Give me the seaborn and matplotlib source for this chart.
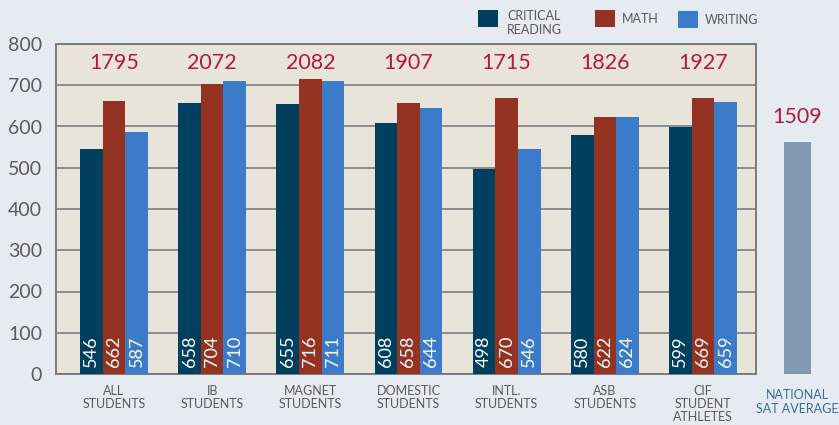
import matplotlib
matplotlib.use("Agg")
import matplotlib.pyplot as plt
from matplotlib.patches import Rectangle
import seaborn as sns
import pandas as pd

groups = ["ALL\nSTUDENTS", "IB\nSTUDENTS", "MAGNET\nSTUDENTS", "DOMESTIC\nSTUDENTS",
          "INTL.\nSTUDENTS", "ASB\nSTUDENTS", "CIF\nSTUDENT\nATHLETES"]
subjects = ["CRITICAL\nREADING", "MATH", "WRITING"]
critical_reading = [546, 658, 655, 608, 498, 580, 599]
math_scores = [662, 704, 716, 658, 670, 622, 669]
writing = [587, 710, 711, 644, 546, 624, 659]
totals = [1795, 2072, 2082, 1907, 1715, 1826, 1927]
national_label = "NATIONAL\nSAT AVERAGE"
national_total = 1509
national_bar = 562  # bar height as drawn in the reference
yticks = [0, 100, 200, 300, 400, 500, 600, 700, 800]

colors = ["#013F5E", "#953323", "#3B7BC9"]
bg = "#E6EAF1"
panel = "#E8E4DA"
total_color = "#B5173F"
label_gray = "#5A5A5A"

rows = []
for g, a, b, c in zip(groups, critical_reading, math_scores, writing):
    rows += [(g, subjects[0], a), (g, subjects[1], b), (g, subjects[2], c)]
df = pd.DataFrame(rows, columns=["group", "subject", "score"])

sns.set_style("white")
plt.rcParams["font.family"] = ["Lato", "DejaVu Sans"]

fig = plt.figure(figsize=(8.39, 4.25), dpi=100, facecolor=bg)
W, H = 839, 425
ax = fig.add_axes([56 / W, 1 - 374 / H, 700 / W, 330 / H])
ax.set_facecolor(panel)

sns.barplot(data=df, x="group", y="score", hue="subject", hue_order=subjects,
            palette=colors, width=0.69, gap=0, saturation=1, ax=ax,
            linewidth=0, edgecolor="none", zorder=3, legend=False)

ax.set_ylim(0, 800)
ax.set_xlim(-0.59, 6.54)
ax.set_yticks(yticks)
ax.yaxis.grid(True, color="#8C8C8C", linewidth=1.4, zorder=1)
ax.set_axisbelow(True)
for s in ax.spines.values():
    s.set_color("#7A7A7A")
    s.set_linewidth(1.4)
ax.tick_params(axis="y", length=0, pad=10, labelsize=14, labelcolor=label_gray)
ax.tick_params(axis="x", length=0, pad=8, labelsize=9, labelcolor=label_gray)
ax.set_xlabel("")
ax.set_ylabel("")
for t in ax.get_xticklabels():
    t.set_linespacing(1.1)
    t.set_verticalalignment("top")

# value labels inside bars
for cont in ax.containers:
    for bar in cont:
        h = bar.get_height()
        ax.text(bar.get_x() + bar.get_width() / 2, 16, f"{int(h)}",
                rotation=90, ha="center", va="bottom", color="white",
                fontsize=13, zorder=5)

# totals
for i, t in enumerate(totals):
    ax.text(i, 740, str(t), ha="center", va="baseline", color=total_color,
            fontsize=15.5, zorder=5)

# legend (drawn in figure pixels)
legend_items = [(478, 10, subjects[0], "top"), (595, 10, subjects[1], "center"),
                (678, 11, subjects[2], "center")]
for (px, py, lab, va), col in zip(legend_items, colors):
    fig.patches.append(Rectangle((px / W, 1 - (py + 17) / H), 20 / W, 17 / H,
                                 transform=fig.transFigure, facecolor=col,
                                 edgecolor="none"))
    if va == "top":
        fig.text((px + 29) / W, 1 - (py + 0) / H, lab, ha="left", va="top",
                 fontsize=9, color=label_gray, linespacing=1.25)
    else:
        fig.text((px + 27) / W, 1 - (py + 9) / H, lab, ha="left", va="center",
                 fontsize=9, color=label_gray)

# national average
ax2 = fig.add_axes([760 / W, 1 - 374 / H, 75 / W, 330 / H])
ax2.set_facecolor("none")
sns.barplot(x=[national_label], y=[national_bar], color="#8399B2", saturation=1,
            width=0.37, ax=ax2, linewidth=0)
ax2.set_ylim(0, 800)
ax2.set_xlim(-0.5, 0.5)
for s in ax2.spines.values():
    s.set_visible(False)
ax2.set_yticks([])
ax2.set_ylabel("")
ax2.tick_params(axis="x", length=0, pad=11, labelsize=9, labelcolor="#3D6B9D")
for t in ax2.get_xticklabels():
    t.set_linespacing(1.15)
ax2.text(0, national_bar + 37, str(national_total), ha="center", va="bottom",
         color=total_color, fontsize=15.5)

fig.savefig("out.png", dpi=100, facecolor=bg)
